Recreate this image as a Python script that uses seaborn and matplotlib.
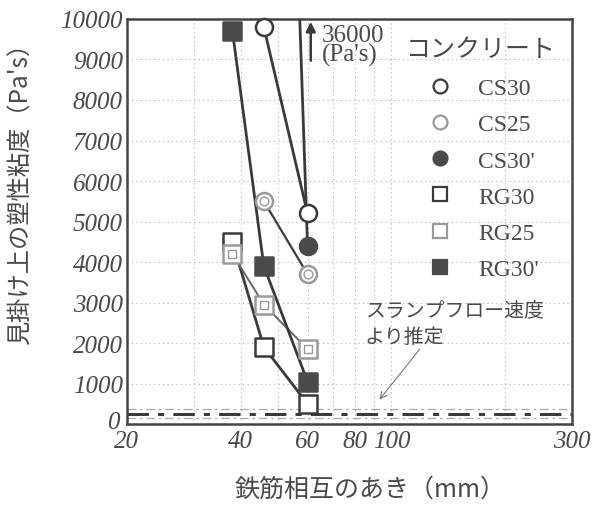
import matplotlib
matplotlib.use("Agg")
import matplotlib.pyplot as plt
import matplotlib.transforms as mtransforms
from matplotlib.font_manager import FontProperties
import seaborn as sns
import pandas as pd
from matplotlib.lines import Line2D

sns.set_theme(style="white")
plt.rcParams['font.family'] = ['Liberation Serif', 'Noto Sans CJK JP']

# Clear spacing between bars (mm) and apparent plastic viscosity (Pa·s)
spacing_cs = [46, 60]
cs30 = [9800, 5200]
cs25 = [5500, 3700]
cs30p = [36000, 4400]
spacing_rg = [38, 46, 60]
rg30 = [4500, 1900, 500]
rg25 = [4200, 2950, 1850]
rg30p = [9700, 3900, 1050]

# Levels estimated from slump-flow speed
slump_levels = [370, 250, 150]

x_ticks = [20, 40, 60, 80, 100, 300]
y_ticks = list(range(0, 10001, 1000))

ink = "#3a3a3a"
light = "#9a9a9a"
text_c = "#4a4a4a"
jp = ['Noto Sans CJK JP']
tick_fp = FontProperties(family='Liberation Serif', style='italic', size=18)
serif_fp = FontProperties(family='Liberation Serif', size=18)

fig = plt.figure(figsize=(5.95, 5.06), dpi=100)
ax = fig.add_axes([0.2134, 0.160, 0.7479, 0.8005])

ax.set_xscale("log")
ax.set_xlim(20, 300)
ax.set_ylim(0, 10000)

# minor log grid
ax.grid(True, which="both", axis="x", linestyle=(0, (1, 3)), color="#b0b0b0", linewidth=0.8)
ax.grid(True, which="major", axis="y", linestyle=(0, (1, 3)), color="#b0b0b0", linewidth=0.8)

for i, lv in enumerate(slump_levels):
    ax.axhline(lv, color=ink if i == 1 else "#aaaaaa", linewidth=2.2 if i == 1 else 0.9,
               linestyle=(0, (7, 3, 2, 3)), zorder=1)

series = [
    ("CS30", spacing_cs, cs30, "o", "white", ink, ink, 2.0),
    ("CS25", spacing_cs, cs25, "o", "white", light, ink, 1.6),
    ("CS30'", spacing_cs, cs30p, "o", "#4a4a4a", "#4a4a4a", ink, 2.0),
    ("RG30", spacing_rg, rg30, "s", "white", ink, ink, 2.0),
    ("RG25", spacing_rg, rg25, "s", "white", light, "#666666", 1.4),
    ("RG30'", spacing_rg, rg30p, "s", "#4a4a4a", "#4a4a4a", ink, 2.0),
]

for name, xs, ys, mk, fc, ec, lc, lw in series:
    df = pd.DataFrame({"x": xs, "y": ys})
    sns.lineplot(data=df, x="x", y="y", ax=ax, color=lc, linewidth=lw, zorder=3,
                 legend=False)
    sns.scatterplot(data=df, x="x", y="y", ax=ax, marker=mk, s=150, facecolor=fc,
                    edgecolor=ec, linewidth=1.8, zorder=4, legend=False,
                    clip_on=(name == "CS30'"))
    if name in ("CS25", "RG25"):
        sns.scatterplot(data=df, x="x", y="y", ax=ax, marker=mk, s=40, facecolor="white",
                        edgecolor=light, linewidth=1.0, zorder=5, legend=False)

ax.set_xticks(x_ticks)
ax.set_xticklabels([str(v) for v in x_ticks], fontproperties=tick_fp, color=text_c)
ax.xaxis.set_minor_formatter(matplotlib.ticker.NullFormatter())
ax.set_yticks(y_ticks)
ax.set_yticklabels([str(v) for v in y_ticks], fontproperties=tick_fp, color=text_c)
ax.tick_params(axis="both", which="both", length=0)
ax.tick_params(axis="x", pad=4)
ax.tick_params(axis="y", pad=3)
# lift the origin label slightly so it clears the first x label
zero_lab = ax.get_yticklabels()[0]
zero_lab.set_transform(zero_lab.get_transform() +
                       mtransforms.ScaledTranslation(-2 / 72, 3 / 72, fig.dpi_scale_trans))

for sp in ax.spines.values():
    sp.set_color("#444444")
    sp.set_linewidth(1.8)

ax.set_xlabel("鉄筋相互のあき（mm）", fontsize=18, color=text_c, family=jp)
ax.xaxis.set_label_coords(0.546, -0.128)
ax.set_ylabel("見掛け上の塑性粘度（Pa's）", fontsize=17.5, color=text_c, family=jp)
ax.yaxis.set_label_coords(-0.21, 0.585)

# off-scale value indicator
ax.annotate("", xy=(61.2, 10000), xytext=(61.2, 8900),
            arrowprops=dict(arrowstyle="-|>", color=ink, lw=1.8, mutation_scale=14),
            annotation_clip=False)
ax.text(65.5, 9870, "36000\n(Pa's)", fontproperties=serif_fp, color=text_c, va="top",
        ha="left", linespacing=0.8)

# legend
handles = []
for name, xs, ys, mk, fc, ec, lc, lw in series:
    handles.append(Line2D([], [], linestyle="none", marker=mk, markersize=10,
                          markerfacecolor=fc, markeredgecolor=ec, markeredgewidth=1.6))
leg = ax.legend(handles, [s[0] for s in series], loc="upper right",
                bbox_to_anchor=(0.925, 0.855), frameon=False,
                prop=FontProperties(family='Liberation Serif', size=17),
                labelspacing=0.62, handletextpad=0.6, borderpad=0.0,
                borderaxespad=0.0, labelcolor=text_c)
ax.text(0.962, 0.926, "コンクリート", transform=ax.transAxes, fontsize=18, color=text_c,
        family=jp, ha="right", va="center")

ax.annotate("", xy=(92, 550), xytext=(120, 1900),
            arrowprops=dict(arrowstyle="->", color="#777777", lw=0.8))
ax.text(85, 2470, "スランプフロー速度\nより推定", fontsize=14.3, color=text_c,
        family=jp, ha="left", va="center", linespacing=1.3)

fig.savefig("out.png", dpi=100)
